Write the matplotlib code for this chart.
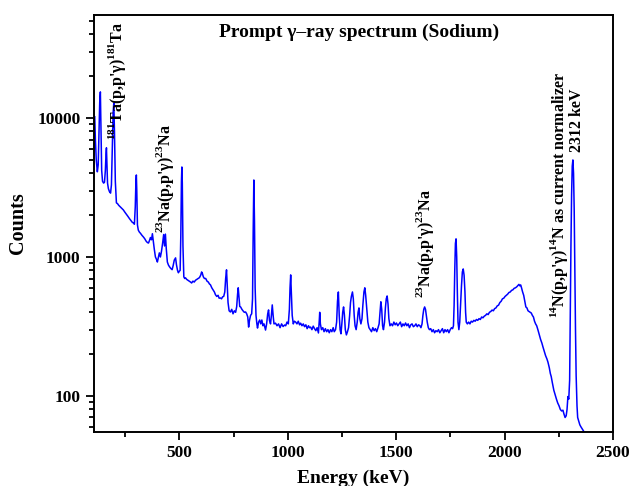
import matplotlib
matplotlib.use('Agg')
import matplotlib.pyplot as plt
from matplotlib.ticker import FixedLocator, LogLocator, NullFormatter

plt.rcParams['font.family'] = ['Liberation Serif', 'DejaVu Serif']
plt.rcParams['font.weight'] = 'bold'
plt.rcParams['mathtext.fontset'] = 'custom'
plt.rcParams['mathtext.rm'] = 'Liberation Serif'
plt.rcParams['mathtext.bf'] = 'Liberation Serif:bold'

# espectro (energia em keV, contagens)
energy_kev = [
    109, 112, 116, 121, 125, 129, 132, 135, 138, 141, 145, 150, 154, 158, 161, 163, 165, 168, 172, 177,
    182, 186, 190, 194, 197, 200, 204, 209, 214, 220, 226, 233, 241, 248, 255, 262, 270, 277, 283, 287,
    292, 296, 299, 301, 303, 306, 310, 315, 320, 327, 334, 340, 346, 352, 357, 362, 366, 371, 375, 379,
    384, 389, 394, 398, 403, 407, 412, 417, 422, 427, 431, 435, 439, 444, 449, 454, 459, 466, 471, 476,
    482, 486, 491, 495, 499, 503, 506, 509, 511, 513, 516, 520, 524, 528, 533, 539, 545, 551, 556, 562,
    568, 574, 580, 586, 592, 598, 602, 605, 610, 615, 621, 627, 633, 638, 643, 649, 655, 661, 666, 672,
    678, 683, 689, 694, 699, 704, 709, 713, 717, 720, 724, 729, 735, 741, 747, 753, 759, 764, 768, 771,
    774, 778, 782, 788, 793, 799, 805, 810, 815, 819, 823, 828, 833, 837, 840, 843, 846, 849, 853, 857,
    860, 865, 870, 875, 880, 885, 890, 897, 902, 907, 911, 915, 920, 924, 928, 932, 936, 943, 950, 957,
    964, 971, 978, 985, 990, 996, 1002, 1007, 1010, 1013, 1016, 1020, 1025, 1030, 1036, 1042, 1048, 1054, 1059, 1065,
    1071, 1077, 1083, 1089, 1095, 1100, 1105, 1111, 1117, 1123, 1129, 1135, 1141, 1145, 1147, 1150, 1155, 1161, 1167, 1173,
    1179, 1185, 1191, 1197, 1203, 1209, 1214, 1220, 1225, 1229, 1233, 1237, 1241, 1245, 1249, 1253, 1257, 1261, 1265, 1270,
    1275, 1280, 1285, 1289, 1293, 1298, 1302, 1306, 1310, 1315, 1320, 1324, 1328, 1332, 1337, 1342, 1346, 1351, 1355, 1359,
    1364, 1369, 1374, 1380, 1386, 1392, 1398, 1404, 1410, 1416, 1421, 1425, 1429, 1433, 1437, 1441, 1446, 1450, 1454, 1458,
    1462, 1466, 1471, 1477, 1483, 1489, 1495, 1501, 1507, 1513, 1519, 1525, 1531, 1537, 1543, 1549, 1555, 1561, 1567, 1573,
    1579, 1585, 1591, 1597, 1603, 1609, 1614, 1619, 1623, 1627, 1631, 1635, 1639, 1643, 1648, 1653, 1659, 1665, 1671, 1677,
    1683, 1689, 1695, 1701, 1707, 1713, 1719, 1725, 1731, 1737, 1743, 1749, 1755, 1760, 1764, 1767, 1770, 1773, 1776, 1779,
    1782, 1785, 1789, 1793, 1797, 1801, 1805, 1809, 1813, 1817, 1820, 1823, 1828, 1834, 1840, 1846, 1852, 1858, 1864, 1870,
    1876, 1882, 1888, 1894, 1900, 1906, 1912, 1918, 1924, 1930, 1936, 1942, 1948, 1954, 1960, 1966, 1972, 1978, 1984, 1990,
    1996, 2002, 2008, 2014, 2020, 2026, 2032, 2038, 2044, 2050, 2056, 2062, 2066, 2070, 2074, 2078, 2083, 2088, 2093, 2098,
    2103, 2108, 2113, 2118, 2123, 2128, 2133, 2138, 2143, 2148, 2154, 2160, 2166, 2172, 2177, 2183, 2189, 2195, 2200, 2206,
    2211, 2215, 2220, 2227, 2233, 2239, 2245, 2251, 2257, 2263, 2269, 2274, 2279, 2284, 2288, 2292, 2296, 2300, 2303, 2306,
    2309, 2312, 2315, 2318, 2321, 2324, 2327, 2330, 2334, 2337, 2342, 2347, 2352, 2358, 2364, 2370, 2376,
]
counts = [
    10200, 7000, 5000, 4100, 4600, 8000, 13000, 15400, 8000, 4200, 3500, 3400, 3450, 4200, 5500, 6100, 4800, 3400, 3100, 2950,
    2880, 3300, 6000, 11000, 12800, 8000, 3500, 2450, 2420, 2350, 2300, 2240, 2180, 2100, 2030, 1960, 1880, 1820, 1770, 1760,
    1720, 2300, 3500, 3890, 3000, 1700, 1560, 1510, 1480, 1430, 1390, 1350, 1300, 1270, 1260, 1320, 1380, 1330, 1470, 1300,
    1130, 1000, 960, 920, 1000, 1070, 1000, 1100, 1250, 1450, 1200, 1460, 1150, 920, 875, 850, 830, 810, 870, 950,
    985, 880, 800, 770, 790, 800, 1400, 3500, 4440, 3400, 1200, 720, 700, 707, 690, 680, 670, 660, 650, 670,
    660, 680, 690, 700, 710, 740, 780, 767, 720, 700, 700, 670, 660, 640, 630, 600, 580, 560, 535, 520,
    530, 505, 507, 500, 517, 520, 560, 700, 808, 650, 470, 410, 402, 420, 390, 410, 400, 440, 540, 600,
    520, 440, 437, 420, 410, 400, 402, 390, 370, 313, 350, 380, 390, 500, 1500, 3580, 1800, 600, 380, 330,
    308, 340, 352, 330, 352, 320, 330, 298, 330, 390, 416, 350, 330, 380, 452, 380, 330, 334, 320, 330,
    310, 330, 316, 324, 320, 340, 330, 420, 600, 743, 560, 380, 330, 345, 340, 330, 345, 325, 334, 320,
    330, 315, 325, 305, 320, 310, 313, 300, 318, 305, 295, 310, 284, 350, 400, 330, 300, 310, 290, 305,
    290, 300, 285, 300, 290, 310, 290, 300, 340, 480, 560, 380, 300, 280, 330, 400, 437, 380, 300, 275,
    290, 310, 380, 470, 520, 560, 500, 380, 320, 300, 340, 400, 430, 360, 330, 360, 450, 560, 600, 530,
    420, 340, 310, 300, 290, 310, 295, 305, 290, 310, 330, 400, 476, 420, 320, 300, 340, 430, 500, 524,
    460, 360, 320, 330, 320, 340, 325, 335, 320, 330, 340, 315, 330, 320, 335, 320, 330, 310, 325, 330,
    315, 320, 330, 315, 325, 320, 310, 330, 380, 420, 437, 420, 380, 340, 310, 300, 305, 290, 300, 285,
    295, 290, 300, 285, 295, 305, 285, 300, 290, 300, 285, 300, 310, 305, 320, 450, 800, 1250, 1350, 1000,
    550, 340, 300, 340, 460, 620, 780, 820, 740, 560, 400, 340, 330, 340, 330, 345, 340, 350, 345, 355,
    350, 360, 355, 370, 365, 375, 380, 390, 385, 400, 405, 415, 410, 425, 430, 445, 450, 470, 480, 500,
    505, 520, 530, 540, 555, 560, 575, 580, 595, 600, 610, 625, 635, 620, 630, 600, 560, 530, 480, 437,
    430, 410, 405, 400, 395, 380, 370, 345, 330, 320, 298, 275, 255, 240, 225, 210, 195, 185, 175, 160,
    145, 138, 125, 110, 102, 95, 89, 85, 80, 78, 79, 74, 70, 72, 80, 99, 95, 130, 400, 1200,
    2800, 4500, 4990, 4000, 2200, 800, 300, 140, 85, 70, 66, 62, 60, 58, 56, 54, 52,
]

x_ticks = [500, 1000, 1500, 2000, 2500]
x_minor = [250, 750, 1250, 1750, 2250]
y_ticks = [100, 1000, 10000]

fig = plt.figure(figsize=(6.3, 4.86), dpi=100)
ax = fig.add_axes([0.149, 0.111, 0.824, 0.858])

ax.plot(energy_kev, counts, color='#0000FF', linewidth=1.1)

ax.set_yscale('log')
ax.set_xlim(105, 2500)
ax.set_ylim(55, 55000)

ax.xaxis.set_major_locator(FixedLocator(x_ticks))
ax.xaxis.set_minor_locator(FixedLocator(x_minor))
ax.yaxis.set_major_locator(FixedLocator(y_ticks))
ax.yaxis.set_minor_locator(LogLocator(base=10, subs=range(2, 10)))
ax.yaxis.set_minor_formatter(NullFormatter())
ax.set_yticklabels([str(v) for v in y_ticks])
ax.set_xticklabels([str(v) for v in x_ticks])

ax.tick_params(which='both', direction='out', top=False, right=False, width=1.3,
               labelsize=12.5)
ax.tick_params(which='major', length=6)
ax.tick_params(which='minor', length=3.5)
for s in ax.spines.values():
    s.set_linewidth(1.4)
for lab in ax.get_xticklabels() + ax.get_yticklabels():
    lab.set_fontweight('bold')

ax.set_xlabel('Energy (keV)', fontsize=14, fontweight='bold', labelpad=6)
ax.set_ylabel('Counts', fontsize=14.5, fontweight='bold', labelpad=7)

ax.text(0.51, 0.958, 'Prompt γ–ray spectrum (Sodium)', transform=ax.transAxes,
        ha='center', va='center', fontsize=14, fontweight='bold')

# anotações dos picos
lbl = dict(rotation=90, ha='center', va='bottom', fontsize=11.5, fontweight='bold')
ax.text(214, 6900, r"$^{181}$Ta(p,p'γ)$^{181}$Ta", **lbl)
ax.text(435, 1490, r"$^{23}$Na(p,p'γ)$^{23}$Na", **lbl)
ax.text(1632, 507, r"$^{23}$Na(p,p'γ)$^{23}$Na", **lbl)
ax.text(2252, 364, "$^{14}$N(p,p'γ)$^{14}$N as current normalizer", **lbl)
ax.text(2335, 5700, "2312 keV", **lbl)

plt.savefig('out.png', dpi=100)
plt.close()
